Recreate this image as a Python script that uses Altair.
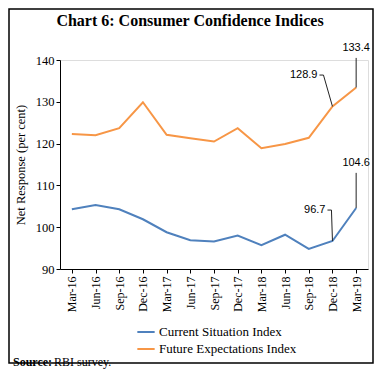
import altair as alt
import pandas as pd

dates = ["Mar-16", "Jun-16", "Sep-16", "Dec-16", "Mar-17", "Jun-17", "Sep-17",
         "Dec-17", "Mar-18", "Jun-18", "Sep-18", "Dec-18", "Mar-19"]
current = [104.3, 105.3, 104.3, 101.9, 98.8, 96.9, 96.6, 98.0, 95.7, 98.2, 94.8, 96.7, 104.6]
future = [122.3, 122.0, 123.7, 129.9, 122.1, 121.3, 120.5, 123.7, 118.9, 119.9, 121.4, 128.9, 133.4]
series_names = ["Current Situation Index", "Future Expectations Index"]
colors = ["#4F81BD", "#F79646"]
y_ticks = [90, 95, 100, 105, 110, 115, 120, 125, 130, 135, 140]
title_text = "Chart 6: Consumer Confidence Indices"

rows = []
for d, c, f in zip(dates, current, future):
    rows.append({"date": d, "value": c, "series": series_names[0]})
    rows.append({"date": d, "value": f, "series": series_names[1]})
df = pd.DataFrame(rows)

FONT = "Liberation Serif"
W, H = 308, 209

xenc = alt.X("date:N", sort=dates, title=None,
             scale=alt.Scale(type="point", padding=0.5),
             axis=alt.Axis(labelAngle=-90, labelFontSize=12, labelFont=FONT,
                           labelColor="black", domainColor="black", tickColor="black",
                           tickSize=4, labelPadding=3))
yscale = alt.Scale(domain=[90, 140], nice=False)

lines = alt.Chart(df).mark_line(strokeWidth=2).encode(
    x=xenc,
    y=alt.Y("value:Q", scale=yscale, title="Net Response (per cent)",
            axis=alt.Axis(values=y_ticks, grid=False, labelFontSize=12.5, labelFont=FONT,
                          labelColor="black", domainColor="black", tickColor="black",
                          tickSize=4, titleFont=FONT, titleFontSize=12.5,
                          titleFontWeight="normal", titleColor="black", titlePadding=8)),
    color=alt.Color("series:N", scale=alt.Scale(domain=series_names, range=colors),
                    legend=alt.Legend(title=None, orient="none", legendX=76, legendY=262,
                                      symbolType="stroke", symbolSize=300,
                                      symbolStrokeWidth=2, labelFont=FONT,
                                      labelFontSize=13, labelColor="black",
                                      rowPadding=-3, padding=0, labelOffset=3,
                                      direction="vertical")),
)

# Annotation leader data (built from the series end values)
c_dec, c_mar = current[11], current[12]
f_dec, f_mar = future[11], future[12]

vert = pd.DataFrame([
    {"date": "Mar-19", "y": f_mar, "y2": 140.5},
    {"date": "Mar-19", "y": c_mar, "y2": 113.0},
])
vert_rule = alt.Chart(vert).mark_rule(color="#222222", strokeWidth=1).encode(
    x=alt.X("date:N", sort=dates), y="y:Q", y2="y2:Q")
vert_text = alt.Chart(pd.DataFrame([
    {"date": "Mar-19", "y": 140.5, "t": f"{f_mar:.1f}"},
    {"date": "Mar-19", "y": 113.0, "t": f"{c_mar:.1f}"},
])).mark_text(font="Liberation Sans", fontSize=11, dy=-7, baseline="alphabetic",
              color="black").encode(x=alt.X("date:N", sort=dates), y="y:Q", text="t:N")

diag = alt.Chart(pd.DataFrame([{"date": "Dec-18", "y": f_dec, "y2": 136.4}])).mark_rule(
    color="#222222", strokeWidth=1, x2Offset=-9).encode(
    x=alt.X("date:N", sort=dates), x2="date:N", y="y:Q", y2="y2:Q")
hook1 = alt.Chart(pd.DataFrame([{"date": "Dec-18", "y": 136.4}])).mark_rule(
    color="#222222", strokeWidth=1, xOffset=-9, x2Offset=-13).encode(
    x=alt.X("date:N", sort=dates), x2="date:N", y="y:Q")
text1 = alt.Chart(pd.DataFrame([{"date": "Dec-18", "y": 136.4, "t": f"{f_dec:.1f}"}])).mark_text(
    font="Liberation Sans", fontSize=11, align="right", baseline="middle", dx=-15,
    color="black").encode(x=alt.X("date:N", sort=dates), y="y:Q", text="t:N")

diag2 = alt.Chart(pd.DataFrame([{"date": "Dec-18", "y": c_dec, "y2": 104.1}])).mark_rule(
    color="#222222", strokeWidth=1, x2Offset=-1).encode(
    x=alt.X("date:N", sort=dates), x2="date:N", y="y:Q", y2="y2:Q")
hook2 = alt.Chart(pd.DataFrame([{"date": "Dec-18", "y": 104.1}])).mark_rule(
    color="#222222", strokeWidth=1, xOffset=-1, x2Offset=-5).encode(
    x=alt.X("date:N", sort=dates), x2="date:N", y="y:Q")
text2 = alt.Chart(pd.DataFrame([{"date": "Dec-18", "y": 104.1, "t": f"{c_dec:.1f}"}])).mark_text(
    font="Liberation Sans", fontSize=11, align="right", baseline="middle", dx=-7,
    color="black").encode(x=alt.X("date:N", sort=dates), y="y:Q", text="t:N")

one = pd.DataFrame([{"a": 1}])
title_mark = alt.Chart(one).mark_text(font=FONT, fontSize=16, fontWeight="bold",
                                      align="center", baseline="alphabetic", color="black").encode(
    x=alt.value(130), y=alt.value(-34), text=alt.value(title_text))
src_bold = alt.Chart(one).mark_text(font=FONT, fontSize=12, fontWeight="bold",
                                    align="left", baseline="alphabetic", color="black").encode(
    x=alt.value(-47), y=alt.value(306), text=alt.value("Source:"))
src_norm = alt.Chart(one).mark_text(font=FONT, fontSize=12, align="left",
                                    baseline="alphabetic", color="black").encode(
    x=alt.value(-6), y=alt.value(306), text=alt.value("RBI survey."))

border = alt.Chart(one).mark_rect(filled=False, stroke="black", strokeWidth=1.5).encode(
    x=alt.value(-51), x2=alt.value(313), y=alt.value(-51), y2=alt.value(303))

chart = alt.layer(lines, vert_rule, vert_text, diag, hook1, text1, diag2, hook2, text2,
                  title_mark, src_bold, src_norm, border).properties(
    width=W, height=H,
    autosize=alt.AutoSizeParams(type="none"),
    padding={"left": 52, "top": 52, "right": 6, "bottom": 104},
).configure_view(stroke=None).configure(background="white")

chart.save("out.html", embed_options={"renderer": "svg", "actions": False})
